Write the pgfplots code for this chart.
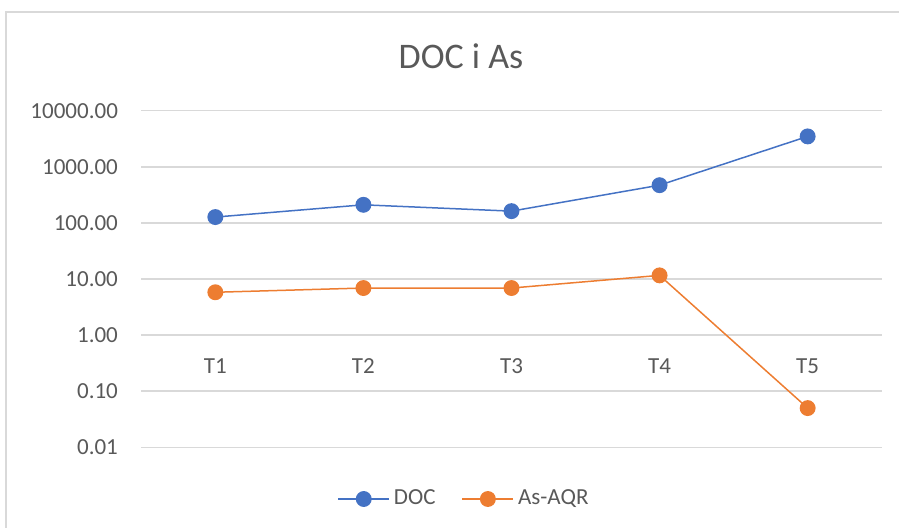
\documentclass[border=0pt]{standalone}
\usepackage{fontspec}
\setmainfont{Carlito}
\usepackage{pgfplots}
\pgfplotsset{compat=1.18}

\definecolor{docblue}{HTML}{4472C4}
\definecolor{asorange}{HTML}{ED7D31}
\definecolor{txtgray}{HTML}{595959}
\definecolor{gridgray}{HTML}{D9D9D9}

\begin{document}
\begin{tikzpicture}
% page = 899x528 px at 0.5pt per px, plot box lower-left at origin
\useasboundingbox (-70.65pt,-40.35pt) rectangle (378.85pt,223.65pt);
\draw[gridgray, line width=0.7pt] (-67.65pt,-40.35pt) -- (-67.65pt,217.65pt) -- (378.85pt,217.65pt);
\node[font=\fontsize{18}{20}\selectfont, text=txtgray] at (159.85pt,195.65pt) {DOC i As};
\begin{axis}[
    at={(0pt,0pt)}, anchor=south west,
    scale only axis,
    width=370.2pt, height=168.3pt,
    ymode=log,
    ymin=0.01, ymax=10000,
    xmin=0.5, xmax=5.5,
    axis line style={draw=none},
    major tick length=0pt,
    minor tick length=0pt,
    tick style={draw=none},
    xtick={1,2,3,4,5},
    xticklabels={T1,T2,T3,T4,T5},
    ytick={0.01,0.1,1,10,100,1000,10000},
    yticklabels={0.01,0.10,1.00,10.00,100.00,1000.00,10000.00},
    ymajorgrids,
    grid style={gridgray, line width=0.75pt},
    tick label style={font=\fontsize{11.5}{13}\selectfont, text=txtgray},
    /pgf/number format/assume math mode=true,
    yticklabel style={anchor=east, inner sep=0pt, xshift=-11.5pt},
    xticklabel style={anchor=center, inner sep=0pt, yshift=40.65pt},
    legend columns=2,
    legend style={at={(0.4372,-0.1536)}, anchor=center, draw=none, fill=none,
        font=\fontsize{11.5}{13}\selectfont, text=txtgray,
        /tikz/every even column/.append style={column sep=11pt}},
    legend image code/.code={\draw[mark repeat=2, mark phase=2] plot coordinates {(0pt,0pt) (12.75pt,0pt) (25.5pt,0pt)};},
    clip=false,
]
\addplot[docblue, line width=0.75pt, mark=*, mark size=3.6pt, mark options={fill=docblue, draw=docblue}]
    coordinates {(1,127) (2,210) (3,162) (4,470) (5,3480)};
\addplot[asorange, line width=0.75pt, mark=*, mark size=3.6pt, mark options={fill=asorange, draw=asorange}]
    coordinates {(1,5.8) (2,6.9) (3,6.9) (4,11.6) (5,0.05)};
\legend{DOC, As-AQR}
\end{axis}
\end{tikzpicture}
\end{document}
